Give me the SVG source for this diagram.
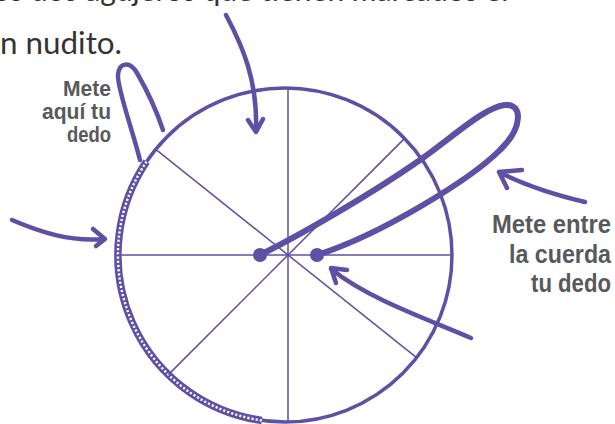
<svg xmlns="http://www.w3.org/2000/svg" width="615" height="424" viewBox="0 0 615 424">
<style>
.thin{stroke:#5c51a5;stroke-width:1.5;fill:none}
.rim{stroke:#5c51a5;stroke-width:3.5;fill:none}
.thick{stroke:#5c51a5;stroke-width:4.5;fill:none;stroke-linecap:round;stroke-linejoin:round}
.lbl{font-family:"Liberation Sans",Arial,sans-serif;font-weight:bold;fill:#58595b;text-anchor:end}
.body{font-family:Lato,"Noto Sans",sans-serif;fill:#333;font-size:30px}
</style>
<rect width="615" height="424" fill="#fff"/>
<g id="intro-text">
<text class="body" x="-14" y="1">los dos agujeros que tienen marcados el</text>
<text class="body" x="0" y="54" textLength="122" lengthAdjust="spacingAndGlyphs">n nudito.</text>
</g>
<g id="wheel">
<circle class="rim" cx="285" cy="255" r="167"/>
<path d="M 261.8 420.4 A 167 167 0 0 1 146.5 161.6" stroke="#5c51a5" stroke-width="7.5" fill="none"/>
<path d="M 261.8 420.4 A 167 167 0 0 1 146.5 161.6" stroke="#fff" stroke-width="2.4" stroke-dasharray="2.2 2" fill="none"/>
<line class="thin" x1="118" y1="255" x2="452" y2="255"/>
<line class="thin" x1="288" y1="88" x2="288" y2="422"/>
<line class="thin" x1="155.8" y1="149.4" x2="416.6" y2="357.7"/>
<line class="thin" x1="168.4" y1="374.6" x2="404.6" y2="138.4"/>
</g>
<g id="string">
<path d="M 260 255 C 300 235, 370 195, 420 160 C 455 135, 485 107, 505 105 C 523 103, 523 128, 500 150 C 470 180, 380 235, 317 255" stroke="#5c51a5" stroke-width="6" fill="none" stroke-linecap="round"/>
<circle cx="260" cy="255" r="7" fill="#5c51a5"/>
<circle cx="317" cy="255" r="7" fill="#5c51a5"/>
</g>
<g id="label-left">
<text class="lbl" font-size="22" x="111" y="96" textLength="48" lengthAdjust="spacingAndGlyphs">Mete</text>
<text class="lbl" font-size="22" x="111" y="119" textLength="69" lengthAdjust="spacingAndGlyphs">aquí tu</text>
<text class="lbl" font-size="22" x="111" y="142" textLength="44" lengthAdjust="spacingAndGlyphs">dedo</text>
</g>
<g id="label-right">
<text class="lbl" font-size="26" x="611" y="233" textLength="119" lengthAdjust="spacingAndGlyphs">Mete entre</text>
<text class="lbl" font-size="26" x="611" y="263" textLength="102" lengthAdjust="spacingAndGlyphs">la cuerda</text>
<text class="lbl" font-size="26" x="611" y="292" textLength="80" lengthAdjust="spacingAndGlyphs">tu dedo</text>
</g>
<g id="connectors">
<path class="thick" d="M 140 160 C 132 128, 117 88, 118 75 C 119 62, 130 61, 137 73 C 148 92, 158 115, 163 130"/>
<path class="thick" d="M 226 15 C 242 45, 258 80, 256 132 M 248 120 L 256 132 L 263 119"/>
<path class="thick" d="M 12 220 C 40 232, 70 242, 104 239 M 93 229 L 105 239 L 96 246"/>
<path class="thick" d="M 585 202 C 560 196, 530 188, 499 172 M 522 170 L 499 172 L 507 188"/>
<path class="thick" d="M 471 338 C 430 320, 370 300, 331 269 M 347 270 L 331 268 L 336 283"/>
</g>
</svg>
